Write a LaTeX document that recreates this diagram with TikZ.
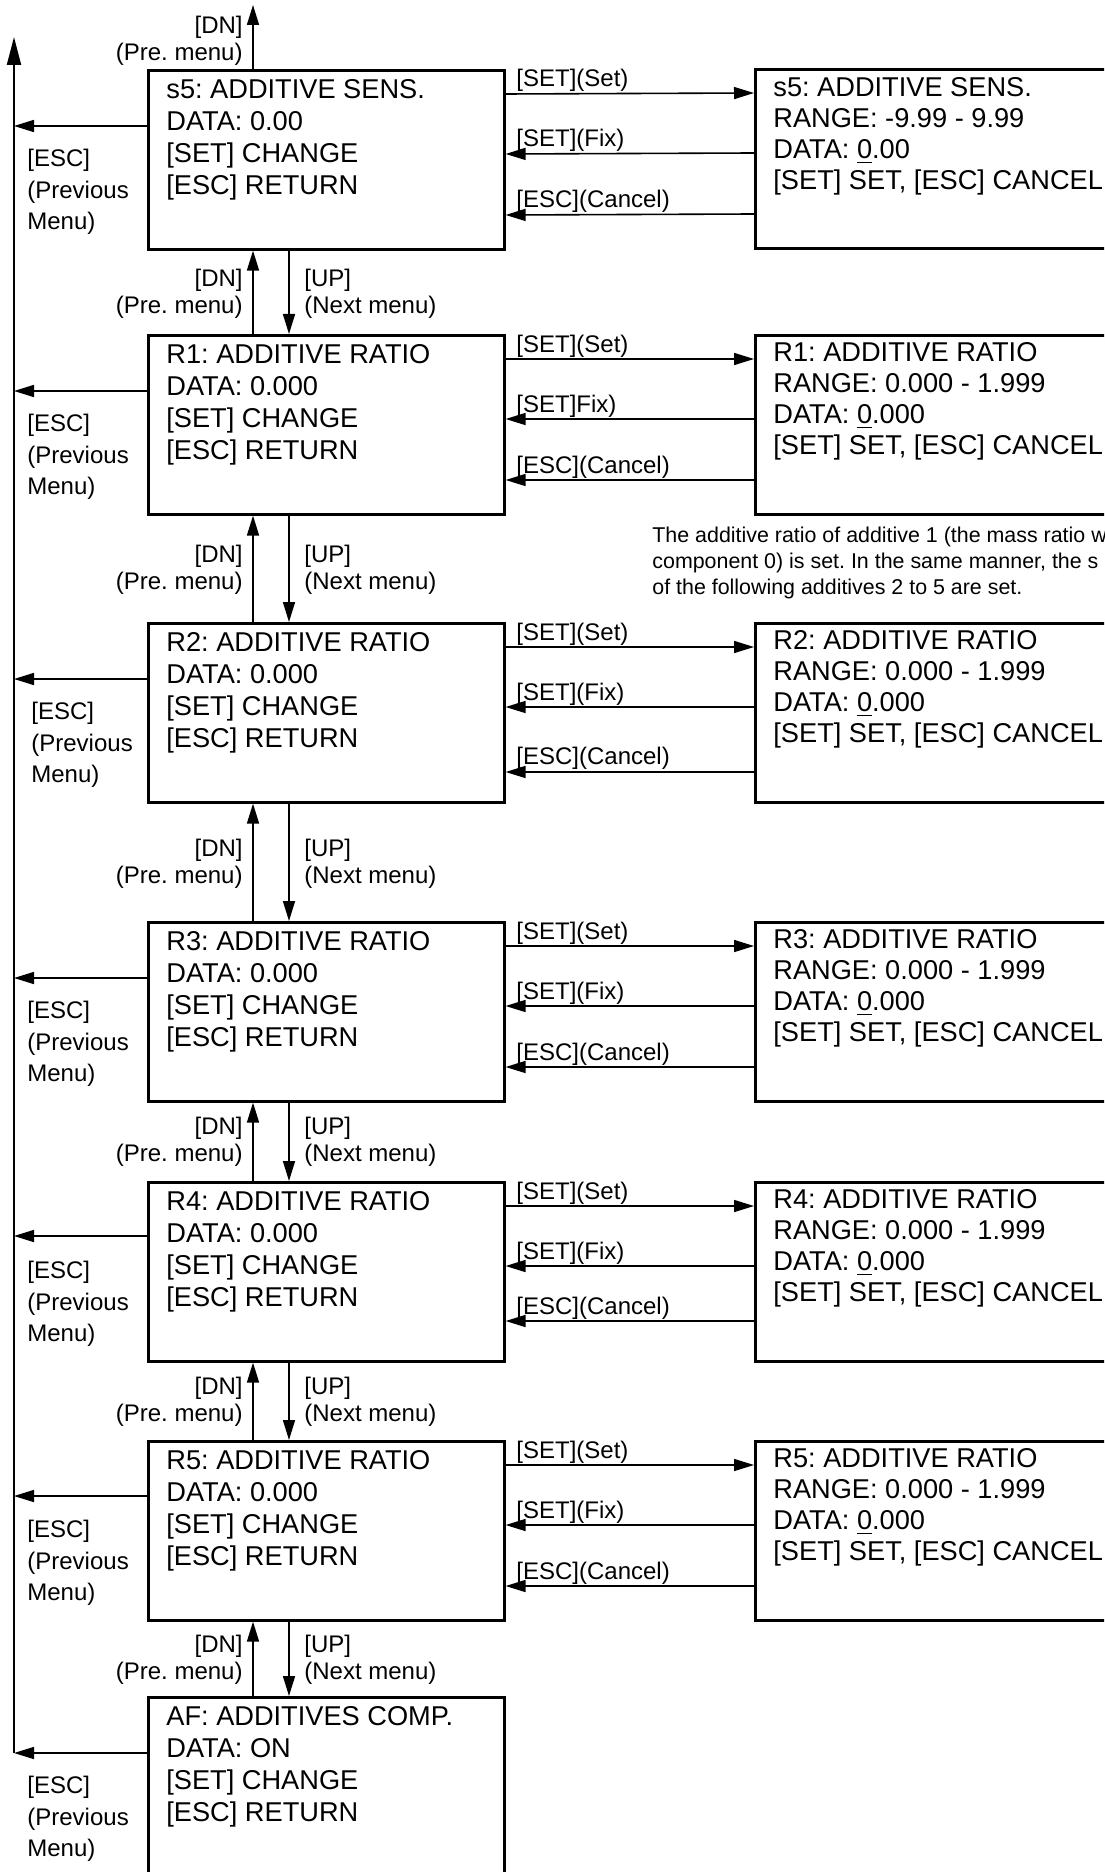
\documentclass[tikz,border=0pt]{standalone}
\usepackage{fontspec}
\setmainfont{Liberation Sans}
\frenchspacing
\usetikzlibrary{arrows.meta}

\begin{document}
\begin{tikzpicture}[x=0.5pt,y=-0.5pt,>={Triangle[length=10pt,width=6pt]},
    menubox/.style={draw,line width=1.3pt,minimum width=178pt,minimum height=89.5pt,inner sep=0pt,anchor=north west},
    editbox/.style={menubox,minimum width=230pt},
    boxtext/.style={align=left,inner sep=0pt,anchor=north west,font=\fontsize{13.6}{16}\selectfont},
    edittext/.style={boxtext,font=\fontsize{13.6}{15.5}\selectfont},
    esclabel/.style={align=left,inner sep=0pt,anchor=north west,font=\fontsize{12}{15.75}\selectfont},
    dnlabel/.style={align=right,inner sep=0pt,anchor=north east,font=\fontsize{12}{13.5}\selectfont},
    uplabel/.style={align=left,inner sep=0pt,anchor=north west,font=\fontsize{12}{13.5}\selectfont},
    keylabel/.style={inner sep=0pt,anchor=base west,font=\fontsize{12}{14}\selectfont},
    link/.style={->,line width=0.8pt}]
    \useasboundingbox (0,0) rectangle (1104,1872);
    \clip (0,0) rectangle (1104,1872);

    % return line on the left
    \coordinate (backtop) at (14,37);
    \coordinate (AFback) at (14,1753);
    \draw[line width=1pt,-{Triangle[length=14pt,width=7pt]}] (AFback) -- (backtop);

    % s5
    \node[menubox] (s5) at (147,69) {};
    \node[boxtext] (s5text) at (166,79.5) {s5: ADDITIVE SENS.\\DATA: 0.00\\{}[SET] CHANGE\\{}[ESC] RETURN};
    \node[editbox] (s5edit) at (754,68) {};
    \node[edittext] (s5edittext) at (773,77.5) {s5: ADDITIVE SENS.\\RANGE: -9.99 - 9.99\\DATA: \underline{0}.00\\{}[SET] SET, [ESC] CANCEL};
    \node[esclabel] (s5esc) at (27,149) {[ESC]\\(Previous\\Menu)};
    \coordinate (s5back) at (14,126);
    \draw[link] (s5back -| s5.west) -- (s5back);
    \coordinate (pretop) at (253,5);
    \draw[link] ([xshift=53pt]s5.north west) -- (pretop);
    \node[dnlabel] (s5dn) at (243,16) {[DN]\\(Pre. menu)};
    \draw[link] ([yshift=-12.5pt]s5.north east) -- ([yshift=-12.5pt]s5edit.north west);
    \draw[link] ([yshift=-42.5pt]s5edit.north west) -- ([yshift=-42.5pt]s5.north east);
    \draw[link] ([yshift=-73pt]s5edit.north west) -- ([yshift=-73pt]s5.north east);
    \node[keylabel] (s5set) at (516,87) {[SET](Set)};
    \node[keylabel] (s5fix) at (516,147) {[SET](Fix)};
    \node[keylabel] (s5cancel) at (516,208) {[ESC](Cancel)};

    % R1
    \node[menubox] (R1) at (147,334) {};
    \node[boxtext] (R1text) at (166,344.5) {R1: ADDITIVE RATIO\\DATA: 0.000\\{}[SET] CHANGE\\{}[ESC] RETURN};
    \node[editbox] (R1edit) at (754,334) {};
    \node[edittext] (R1edittext) at (773,342.5) {R1: ADDITIVE RATIO\\RANGE: 0.000 - 1.999\\DATA: \underline{0}.000\\{}[SET] SET, [ESC] CANCEL};
    \node[esclabel] (R1esc) at (27,414) {[ESC]\\(Previous\\Menu)};
    \coordinate (R1back) at (14,391);
    \draw[link] (R1back -| R1.west) -- (R1back);
    \draw[link] ([xshift=53pt]R1.north west) -- ([xshift=53pt]s5.south west);
    \draw[link] ([xshift=71pt]s5.south west) -- ([xshift=71pt]R1.north west);
    \node[dnlabel] (R1dn) at (243,268.5) {[DN]\\(Pre. menu)};
    \node[uplabel] (R1up) at (304,268.5) {[UP]\\(Next menu)};
    \draw[link] ([yshift=-12.5pt]R1.north east) -- ([yshift=-12.5pt]R1edit.north west);
    \draw[link] ([yshift=-42.5pt]R1edit.north west) -- ([yshift=-42.5pt]R1.north east);
    \draw[link] ([yshift=-73pt]R1edit.north west) -- ([yshift=-73pt]R1.north east);
    \node[keylabel] (R1set) at (516,352) {[SET](Set)};
    \node[keylabel] (R1fix) at (516,412) {[SET]Fix)};
    \node[keylabel] (R1cancel) at (516,473) {[ESC](Cancel)};
    \node[inner sep=0pt,anchor=north west,align=left,font=\fontsize{10.7}{13}\selectfont] (R1note) at (652,527)
        {The additive ratio of additive 1 (the mass ratio w\\component 0) is set. In the same manner, the s\\of the following additives 2 to 5 are set.};

    % R2
    \node[menubox] (R2) at (147,622) {};
    \node[boxtext] (R2text) at (166,632.5) {R2: ADDITIVE RATIO\\DATA: 0.000\\{}[SET] CHANGE\\{}[ESC] RETURN};
    \node[editbox] (R2edit) at (754,622) {};
    \node[edittext] (R2edittext) at (773,630.5) {R2: ADDITIVE RATIO\\RANGE: 0.000 - 1.999\\DATA: \underline{0}.000\\{}[SET] SET, [ESC] CANCEL};
    \node[esclabel] (R2esc) at (31,702) {[ESC]\\(Previous\\Menu)};
    \coordinate (R2back) at (14,679);
    \draw[link] (R2back -| R2.west) -- (R2back);
    \draw[link] ([xshift=53pt]R2.north west) -- ([xshift=53pt]R1.south west);
    \draw[link] ([xshift=71pt]R1.south west) -- ([xshift=71pt]R2.north west);
    \node[dnlabel] (R2dn) at (243,545) {[DN]\\(Pre. menu)};
    \node[uplabel] (R2up) at (304,545) {[UP]\\(Next menu)};
    \draw[link] ([yshift=-12.5pt]R2.north east) -- ([yshift=-12.5pt]R2edit.north west);
    \draw[link] ([yshift=-42.5pt]R2edit.north west) -- ([yshift=-42.5pt]R2.north east);
    \draw[link] ([yshift=-75pt]R2edit.north west) -- ([yshift=-75pt]R2.north east);
    \node[keylabel] (R2set) at (516,640) {[SET](Set)};
    \node[keylabel] (R2fix) at (516,700) {[SET](Fix)};
    \node[keylabel] (R2cancel) at (516,764) {[ESC](Cancel)};

    % R3
    \node[menubox] (R3) at (147,921) {};
    \node[boxtext] (R3text) at (166,931.5) {R3: ADDITIVE RATIO\\DATA: 0.000\\{}[SET] CHANGE\\{}[ESC] RETURN};
    \node[editbox] (R3edit) at (754,921) {};
    \node[edittext] (R3edittext) at (773,929.5) {R3: ADDITIVE RATIO\\RANGE: 0.000 - 1.999\\DATA: \underline{0}.000\\{}[SET] SET, [ESC] CANCEL};
    \node[esclabel] (R3esc) at (27,1001) {[ESC]\\(Previous\\Menu)};
    \coordinate (R3back) at (14,978);
    \draw[link] (R3back -| R3.west) -- (R3back);
    \draw[link] ([xshift=53pt]R3.north west) -- ([xshift=53pt]R2.south west);
    \draw[link] ([xshift=71pt]R2.south west) -- ([xshift=71pt]R3.north west);
    \node[dnlabel] (R3dn) at (243,838.5) {[DN]\\(Pre. menu)};
    \node[uplabel] (R3up) at (304,838.5) {[UP]\\(Next menu)};
    \draw[link] ([yshift=-12.5pt]R3.north east) -- ([yshift=-12.5pt]R3edit.north west);
    \draw[link] ([yshift=-42.5pt]R3edit.north west) -- ([yshift=-42.5pt]R3.north east);
    \draw[link] ([yshift=-73pt]R3edit.north west) -- ([yshift=-73pt]R3.north east);
    \node[keylabel] (R3set) at (516,939) {[SET](Set)};
    \node[keylabel] (R3fix) at (516,999) {[SET](Fix)};
    \node[keylabel] (R3cancel) at (516,1060) {[ESC](Cancel)};

    % R4
    \node[menubox] (R4) at (147,1181) {};
    \node[boxtext] (R4text) at (166,1191.5) {R4: ADDITIVE RATIO\\DATA: 0.000\\{}[SET] CHANGE\\{}[ESC] RETURN};
    \node[editbox] (R4edit) at (754,1181) {};
    \node[edittext] (R4edittext) at (773,1189.5) {R4: ADDITIVE RATIO\\RANGE: 0.000 - 1.999\\DATA: \underline{0}.000\\{}[SET] SET, [ESC] CANCEL};
    \node[esclabel] (R4esc) at (27,1261) {[ESC]\\(Previous\\Menu)};
    \coordinate (R4back) at (14,1236);
    \draw[link] (R4back -| R4.west) -- (R4back);
    \draw[link] ([xshift=53pt]R4.north west) -- ([xshift=53pt]R3.south west);
    \draw[link] ([xshift=71pt]R3.south west) -- ([xshift=71pt]R4.north west);
    \node[dnlabel] (R4dn) at (243,1117) {[DN]\\(Pre. menu)};
    \node[uplabel] (R4up) at (304,1117) {[UP]\\(Next menu)};
    \draw[link] ([yshift=-12.5pt]R4.north east) -- ([yshift=-12.5pt]R4edit.north west);
    \draw[link] ([yshift=-42.5pt]R4edit.north west) -- ([yshift=-42.5pt]R4.north east);
    \draw[link] ([yshift=-70pt]R4edit.north west) -- ([yshift=-70pt]R4.north east);
    \node[keylabel] (R4set) at (516,1199) {[SET](Set)};
    \node[keylabel] (R4fix) at (516,1259) {[SET](Fix)};
    \node[keylabel] (R4cancel) at (516,1314) {[ESC](Cancel)};

    % R5
    \node[menubox] (R5) at (147,1440) {};
    \node[boxtext] (R5text) at (166,1450.5) {R5: ADDITIVE RATIO\\DATA: 0.000\\{}[SET] CHANGE\\{}[ESC] RETURN};
    \node[editbox] (R5edit) at (754,1440) {};
    \node[edittext] (R5edittext) at (773,1448.5) {R5: ADDITIVE RATIO\\RANGE: 0.000 - 1.999\\DATA: \underline{0}.000\\{}[SET] SET, [ESC] CANCEL};
    \node[esclabel] (R5esc) at (27,1520) {[ESC]\\(Previous\\Menu)};
    \coordinate (R5back) at (14,1496);
    \draw[link] (R5back -| R5.west) -- (R5back);
    \draw[link] ([xshift=53pt]R5.north west) -- ([xshift=53pt]R4.south west);
    \draw[link] ([xshift=71pt]R4.south west) -- ([xshift=71pt]R5.north west);
    \node[dnlabel] (R5dn) at (243,1377) {[DN]\\(Pre. menu)};
    \node[uplabel] (R5up) at (304,1377) {[UP]\\(Next menu)};
    \draw[link] ([yshift=-12.5pt]R5.north east) -- ([yshift=-12.5pt]R5edit.north west);
    \draw[link] ([yshift=-42.5pt]R5edit.north west) -- ([yshift=-42.5pt]R5.north east);
    \draw[link] ([yshift=-73pt]R5edit.north west) -- ([yshift=-73pt]R5.north east);
    \node[keylabel] (R5set) at (516,1458) {[SET](Set)};
    \node[keylabel] (R5fix) at (516,1518) {[SET](Fix)};
    \node[keylabel] (R5cancel) at (516,1579) {[ESC](Cancel)};

    % AF
    \node[menubox,minimum height=100pt] (AF) at (147,1696) {};
    \node[boxtext] (AFtext) at (166,1706.5) {AF: ADDITIVES COMP.\\DATA: ON\\{}[SET] CHANGE\\{}[ESC] RETURN};
    \node[esclabel] (AFesc) at (27,1776) {[ESC]\\(Previous\\Menu)};
    \draw[link] (AFback -| AF.west) -- (AFback);
    \draw[link] ([xshift=53pt]AF.north west) -- ([xshift=53pt]R5.south west);
    \draw[link] ([xshift=71pt]R5.south west) -- ([xshift=71pt]AF.north west);
    \node[dnlabel] (AFdn) at (243,1635) {[DN]\\(Pre. menu)};
    \node[uplabel] (AFup) at (304,1635) {[UP]\\(Next menu)};
\end{tikzpicture}
\end{document}
